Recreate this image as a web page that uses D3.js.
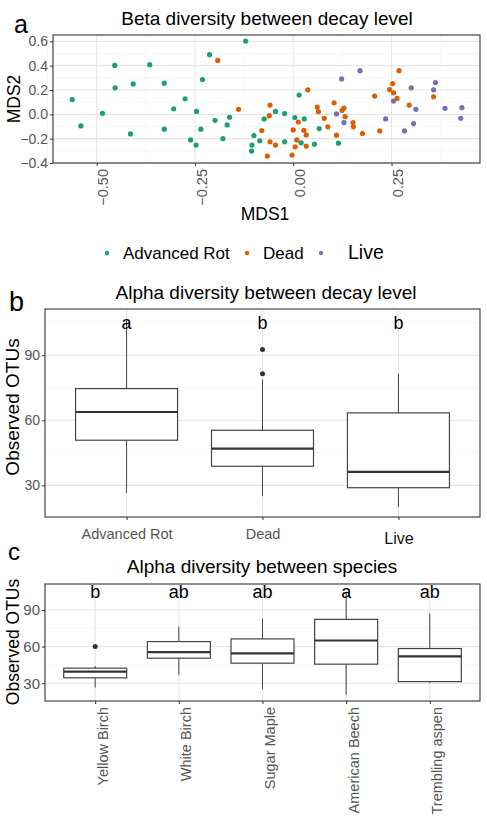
<!DOCTYPE html>
<meta charset="utf-8">
<head>
  <title>Diversity between decay level</title>
  <script src="https://cdnjs.cloudflare.com/ajax/libs/d3/7.8.5/d3.min.js"></script>
</head>
<style>
  body { margin: 0; background: white; }
  svg { font-family: "Liberation Sans", Arial, sans-serif; }
</style>
<body>
<div id="chart"></div>
<script>
// panel a: NMDS coordinates [MDS1, MDS2]
var advancedRot = [[-0.562,0.122],[-0.540,-0.095],[-0.485,0.008],[-0.454,0.402],[-0.453,0.218],[-0.407,0.25],
  [-0.414,-0.161],[-0.365,0.408],[-0.328,0.256],[-0.328,-0.122],[-0.304,0.046],[-0.275,0.128],[-0.246,0.024],
  [-0.235,-0.122],[-0.231,0.286],[-0.213,0.490],[-0.199,-0.049],[-0.168,-0.087],[-0.162,-0.024],[-0.121,0.602],
  [-0.074,-0.038],[-0.045,0.024],[-0.022,0.006],[0.004,-0.027],[0.015,0.158],[0.028,-0.038],[0.066,-0.117],
  [-0.261,-0.210],[-0.247,-0.253],[-0.179,-0.200],[-0.105,-0.253],[-0.106,-0.302],[-0.085,-0.218],[-0.022,-0.226],
  [0.020,-0.234],[0.054,-0.245],[0.115,-0.237],[-0.100,-0.174]];
var dead = [[-0.192,0.443],[-0.139,0.041],[-0.059,0.076],[-0.061,-0.011],[-0.080,-0.133],[0.0,-0.128],[0.013,-0.063],
  [0.027,-0.131],[0.033,-0.169],[0.037,0.201],[0.061,0.060],[0.064,0.022],[0.079,-0.033],[0.088,-0.103],[0.104,0.095],
  [0.110,-0.171],[0.124,0.033],[0.129,0.052],[0.132,-0.019],[0.152,-0.068],[0.153,-0.103],[0.176,-0.158],[0.207,0.150],
  [0.220,-0.136],[0.245,0.204],[0.255,0.177],[0.253,0.253],[0.264,0.131],[0.269,0.359],[0.295,0.076],[0.357,0.144],
  [-0.059,-0.226],[-0.045,-0.253],[-0.066,-0.343],[0.009,-0.210],[0.005,-0.267],[-0.003,-0.335],[0.033,-0.261]];
var live = [[0.110,0.003],[0.123,0.291],[0.129,-0.068],[0.170,0.359],[0.235,-0.038],[0.255,0.109],[0.283,-0.136],
  [0.300,0.218],[0.306,-0.076],[0.312,0.041],[0.357,0.201],[0.362,0.261],[0.386,0.049],[0.429,0.055],[0.426,-0.033]];
var groupNames = ["Advanced Rot", "Dead", "Live"];
var groupColors = ["#1b9e77", "#d95f02", "#7570b3"];
var mds1Ticks = [-0.50, -0.25, 0.00, 0.25];
var mds2Ticks = [-0.4, -0.2, 0.0, 0.2, 0.4, 0.6];

// panel b: box stats [lower whisker, Q1, median, Q3, upper whisker]
var decayLevels = ["Advanced Rot", "Dead", "Live"];
var decayStats = [[26.5, 50.8, 63.8, 74.6, 106], [25, 38.8, 46.9, 55.4, 78.8], [20, 28.9, 36.2, 63.4, 81.5]];
var decayOutliers = [[], [92.6, 81.5], []];
var decayLetters = ["a", "b", "b"];

// panel c
var species = ["Yellow Birch", "White Birch", "Sugar Maple", "American Beech", "Trembling aspen"];
var speciesStats = [[26.4, 34.4, 39.5, 42.3, 44], [36.8, 50.5, 55.4, 64.1, 76.4], [25.3, 46.4, 54.5, 66.3, 82.8],
  [20.4, 45.6, 65.0, 82.3, 104], [30, 31.3, 51.9, 58.4, 86.9]];
var speciesOutliers = [[60], [], [], [], []];
var speciesLetters = ["b", "ab", "ab", "a", "ab"];
var otuTicks = [30, 60, 90];

var svg = d3.select("#chart").append("svg").attr("width", 487).attr("height", 820);

function grid(g, x, y, xs, ys, minorX, minorY, w, h) {
  g.selectAll(".minx").data(minorX).enter().append("line")
    .attr("x1", x).attr("x2", x).attr("y1", 0).attr("y2", h)
    .attr("stroke", "#f2f2f2").attr("stroke-width", 0.6);
  g.selectAll(".miny").data(minorY).enter().append("line")
    .attr("x1", 0).attr("x2", w).attr("y1", y).attr("y2", y)
    .attr("stroke", "#f2f2f2").attr("stroke-width", 0.6);
  g.selectAll(".majx").data(xs).enter().append("line")
    .attr("x1", x).attr("x2", x).attr("y1", 0).attr("y2", h)
    .attr("stroke", "#e6e6e6").attr("stroke-width", 1.1);
  g.selectAll(".majy").data(ys).enter().append("line")
    .attr("x1", 0).attr("x2", w).attr("y1", y).attr("y2", y)
    .attr("stroke", "#e6e6e6").attr("stroke-width", 1.1);
}

function styleAxis(a, size) {
  a.select(".domain").remove();
  a.selectAll(".tick line").attr("stroke", "#333");
  a.selectAll(".tick text").attr("fill", "#555").style("font-size", size + "px")
    .style("font-family", "'Liberation Sans', Arial, sans-serif");
}

// ---------- panel a ----------
var A = {left: 53, top: 35, w: 427, h: 128};
var ga = svg.append("g").attr("transform", "translate(" + A.left + "," + A.top + ")");
var xa = d3.scaleLinear().domain([-0.611, 0.475]).range([0, A.w]);
var ya = d3.scaleLinear().domain([-0.40, 0.652]).range([A.h, 0]);

grid(ga, xa, ya, mds1Ticks, mds2Ticks, [-0.625, -0.375, -0.125, 0.125, 0.375], [-0.3, -0.1, 0.1, 0.3, 0.5], A.w, A.h);

[advancedRot, dead, live].forEach(function(pts, i) {
  ga.selectAll(".p" + i).data(pts).enter().append("circle")
    .attr("cx", function(d) { return xa(d[0]); })
    .attr("cy", function(d) { return ya(d[1]); })
    .attr("r", 2.6)
    .attr("fill", groupColors[i]);
});
ga.append("rect").attr("width", A.w).attr("height", A.h)
  .attr("fill", "none").attr("stroke", "#333").attr("stroke-width", 1.1);

var ayA = ga.append("g").call(d3.axisLeft(ya).tickValues(mds2Ticks).tickFormat(d3.format(".1f")).tickSize(3).tickPadding(2));
styleAxis(ayA, 14);
var axA = ga.append("g").attr("transform", "translate(0," + A.h + ")")
  .call(d3.axisBottom(xa).tickValues(mds1Ticks).tickFormat(d3.format(".2f")).tickSize(3));
styleAxis(axA, 14.5);
axA.selectAll(".tick text")
  .attr("transform", "translate(6,6) rotate(-90)")
  .attr("x", 0).attr("y", 0).attr("dy", "0.35em")
  .attr("text-anchor", "end");

svg.append("text").attr("x", 14).attr("y", 33).style("font-size", "25px").text("a");
svg.append("text").attr("x", 267).attr("y", 25).attr("text-anchor", "middle")
  .style("font-size", "19px").text("Beta diversity between decay level");
svg.append("text").attr("transform", "translate(20,99) rotate(-90)").attr("text-anchor", "middle")
  .style("font-size", "17.5px").text("MDS2");
svg.append("text").attr("x", 265).attr("y", 220).attr("text-anchor", "middle")
  .style("font-size", "17.5px").text("MDS1");

// legend
var legX = [107, 247, 321];
var legTextX = [123, 263, 348];
groupNames.forEach(function(n, i) {
  svg.append("circle").attr("cx", legX[i]).attr("cy", 253).attr("r", 2.2).attr("fill", groupColors[i]);
  svg.append("text").attr("x", legTextX[i]).attr("y", 259)
    .style("font-size", i == 2 ? "19.5px" : "17px").text(n);
});

// ---------- box panels ----------
function boxPanel(P, cats, stats, outliers, letters, boxW) {
  var g = svg.append("g").attr("transform", "translate(" + P.left + "," + P.top + ")");
  var x = d3.scalePoint().domain(cats).range([0, P.w]).padding(0.6);
  var y = d3.scaleLinear().domain([15.4, 111.3]).range([P.h, 0]);
  grid(g, x, y, cats, otuTicks, [], [45, 75, 105], P.w, P.h);

  cats.forEach(function(c, i) {
    var s = stats[i], cx = x(c), bw = boxW;
    g.append("line").attr("x1", cx).attr("x2", cx).attr("y1", y(s[3])).attr("y2", y(s[4]))
      .attr("stroke", "#444").attr("stroke-width", 1);
    g.append("line").attr("x1", cx).attr("x2", cx).attr("y1", y(s[1])).attr("y2", y(s[0]))
      .attr("stroke", "#444").attr("stroke-width", 1);
    g.append("rect").attr("x", cx - bw / 2).attr("width", bw)
      .attr("y", y(s[3])).attr("height", y(s[1]) - y(s[3]))
      .attr("fill", "white").attr("stroke", "#444").attr("stroke-width", 1.2);
    g.append("line").attr("x1", cx - bw / 2).attr("x2", cx + bw / 2).attr("y1", y(s[2])).attr("y2", y(s[2]))
      .attr("stroke", "#333").attr("stroke-width", 2.2);
    outliers[i].forEach(function(o) {
      g.append("circle").attr("cx", cx).attr("cy", y(o)).attr("r", 2.5).attr("fill", "#333");
    });
    g.append("text").attr("x", cx).attr("y", y(105)).attr("dy", "0.35em").attr("text-anchor", "middle")
      .style("font-size", "18px").text(letters[i]);
  });
  g.append("rect").attr("width", P.w).attr("height", P.h)
    .attr("fill", "none").attr("stroke", "#333").attr("stroke-width", 1.1);
  var ay = g.append("g").call(d3.axisLeft(y).tickValues(otuTicks).tickSize(3).tickPadding(2));
  styleAxis(ay, P.tickSize);
  var ax = g.append("g").attr("transform", "translate(0," + P.h + ")")
    .call(d3.axisBottom(x).tickSize(3));
  styleAxis(ax, P.xTickSize);
  return {g: g, x: x, y: y, ax: ax};
}

var B = {left: 45, top: 309, w: 435, h: 208, tickSize: 14, xTickSize: 14.5};
var pb = boxPanel(B, decayLevels, decayStats, decayOutliers, decayLetters, 102);
pb.ax.selectAll(".tick text").attr("y", 12)
  .filter(function(d) { return d == "Live"; })
  .attr("fill", "#111").style("font-size", "16px").attr("y", 16);
svg.append("text").attr("x", 9).attr("y", 311).style("font-size", "27px").text("b");
svg.append("text").attr("x", 266).attr("y", 299).attr("text-anchor", "middle")
  .style("font-size", "19px").text("Alpha diversity between decay level");
svg.append("text").attr("transform", "translate(18.5,407) rotate(-90)").attr("text-anchor", "middle")
  .style("font-size", "19px").text("Observed OTUs");

var C = {left: 45, top: 584, w: 435, h: 117, tickSize: 15, xTickSize: 14.5};
var pc = boxPanel(C, species, speciesStats, speciesOutliers, speciesLetters, 63);
pc.ax.selectAll(".tick text")
  .attr("transform", "translate(7,6) rotate(-90)")
  .attr("x", 0).attr("y", 0).attr("dy", "0.35em")
  .attr("text-anchor", "end");
svg.append("text").attr("x", 8).attr("y", 560).style("font-size", "24px").text("c");
svg.append("text").attr("x", 262).attr("y", 573).attr("text-anchor", "middle")
  .style("font-size", "19px").text("Alpha diversity between species");
svg.append("text").attr("transform", "translate(18.5,642) rotate(-90)").attr("text-anchor", "middle")
  .style("font-size", "17.5px").text("Observed OTUs");
</script>
</body>
